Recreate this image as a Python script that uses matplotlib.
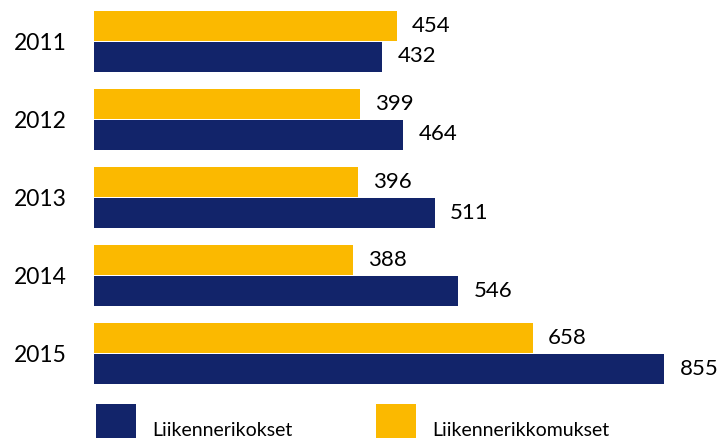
import numpy as np
import matplotlib.pyplot as plt

plt.rcParams['font.family'] = ['Lato', 'DejaVu Sans']

# Data
years = ['2011', '2012', '2013', '2014', '2015']
rikokset = [432, 464, 511, 546, 855]        # Liikennerikokset
rikkomukset = [454, 399, 396, 388, 658]     # Liikennerikkomukset

navy = '#12246A'
orange = '#FBB900'

fig = plt.figure(figsize=(7.19, 4.38), dpi=100)
# axes from the bar baseline (x=94 px) to the right edge, full height
ax = fig.add_axes([94 / 719, 0, 625 / 719, 1])

pos = np.arange(len(years))
h = 30 / 78
off = 15.5 / 78

b_navy = ax.barh(pos + off, rikokset, height=h, color=navy, label='Liikennerikokset')
b_orange = ax.barh(pos - off, rikkomukset, height=h, color=orange, label='Liikennerikkomukset')

ax.bar_label(b_navy, padding=11, fontsize=16, color='black')
ax.bar_label(b_orange, padding=11, fontsize=16, color='black')

ax.set_xlim(0, 625 / 0.667)
ax.set_ylim((438 - 41) / 78, -41 / 78)

ax.set_yticks(pos)
ax.set_yticklabels(years, fontsize=16.5, ha='left')
ax.tick_params(axis='y', length=0, pad=58)
ax.set_xticks([])
for s in ax.spines.values():
    s.set_visible(False)

fig.legend(handles=[b_navy, b_orange], loc='upper left',
           bbox_to_anchor=(96 / 719, 1 - 404 / 438), frameon=False,
           ncol=2, fontsize=14, borderpad=0, borderaxespad=0,
           handlelength=2.05, handleheight=3.9, handletextpad=0.85,
           columnspacing=4.3)

fig.savefig('out.png', dpi=100)
